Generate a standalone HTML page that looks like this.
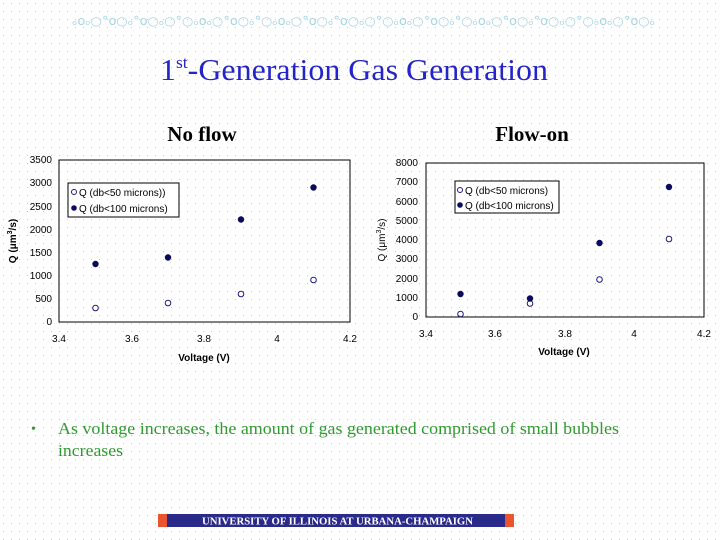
<!DOCTYPE html>
<html><head><meta charset="utf-8"><style>
body{margin:0;width:720px;height:540px;overflow:hidden;background:#fff}
svg{display:block}
</style></head><body>
<svg width="720" height="540" viewBox="0 0 720 540" xmlns="http://www.w3.org/2000/svg">
<defs><pattern id="d" width="8" height="8" patternUnits="userSpaceOnUse"><rect x="3" y="3" width="1" height="1" fill="#c8c8c8"/></pattern></defs>
<rect width="720" height="540" fill="#fff"/>
<rect width="720" height="540" fill="url(#d)"/>
<text x="72" y="25" textLength="583" lengthAdjust="spacingAndGlyphs" font-family="DejaVu Sans, sans-serif" font-size="12" fill="#a8d4e4">ₒoₒ○°o○ₒ°o○ₒ○°○ₒoₒ○°o○ₒ°○ₒoₒ○°o○ₒ°o○ₒ○°○ₒoₒ○°o○ₒ°○ₒoₒ○°o○ₒ°o○ₒ○°○ₒoₒ○°o○ₒ</text>
<text x="160" y="80" textLength="388" lengthAdjust="spacingAndGlyphs" font-family="Liberation Serif, serif" font-size="31" fill="#2424c8">1<tspan font-size="17" dy="-12">st</tspan><tspan dy="12">-Generation Gas Generation</tspan></text>
<g font-family="Liberation Serif, serif" font-size="21" font-weight="bold" fill="#000" text-anchor="middle">
<text x="202" y="141">No flow</text><text x="532" y="141">Flow-on</text></g>

<!-- left chart -->
<g font-family="Liberation Sans, sans-serif" font-size="10" fill="#000">
<rect x="59" y="160" width="291" height="162" fill="none" stroke="#000" stroke-width="1"/>
<g text-anchor="end">
<text x="52" y="325">0</text><text x="52" y="302">500</text><text x="52" y="279">1000</text><text x="52" y="256">1500</text><text x="52" y="233">2000</text><text x="52" y="210">2500</text><text x="52" y="186">3000</text><text x="52" y="163">3500</text></g>
<g text-anchor="middle">
<text x="59" y="342">3.4</text><text x="132" y="342">3.6</text><text x="204" y="342">3.8</text><text x="277" y="342">4</text><text x="350" y="342">4.2</text>
<text x="204" y="361" font-weight="bold">Voltage (V)</text></g>
<text transform="translate(16,241) rotate(-90)" text-anchor="middle" font-weight="bold">Q (μm<tspan font-size="7" dy="-4">3</tspan><tspan dy="4">/s)</tspan></text>
<rect x="68" y="183" width="111" height="34" fill="#fff" stroke="#000"/>
<circle cx="74" cy="192" r="2.5" fill="none" stroke="#1a1a80"/><text x="79" y="196">Q (db&lt;50 microns))</text>
<circle cx="74" cy="208" r="2.8" fill="#0a0a60"/><text x="79" y="212">Q (db&lt;100 microns)</text>
<g fill="none" stroke="#1a1a80" stroke-width="1">
<circle cx="95.5" cy="308" r="2.8"/><circle cx="168" cy="303" r="2.8"/><circle cx="241" cy="294" r="2.8"/><circle cx="313.5" cy="280" r="2.8"/></g>
<g fill="#0a0a60">
<circle cx="95.5" cy="264" r="3.2"/><circle cx="168" cy="257.5" r="3.2"/><circle cx="241" cy="219.5" r="3.2"/><circle cx="313.5" cy="187.5" r="3.2"/></g>
</g>

<!-- right chart -->
<g font-family="Liberation Sans, sans-serif" font-size="10" fill="#000">
<rect x="426" y="163" width="278" height="154" fill="none" stroke="#000"/>
<g text-anchor="end">
<text x="418" y="320">0</text><text x="418" y="301">1000</text><text x="418" y="282">2000</text><text x="418" y="262">3000</text><text x="418" y="243">4000</text><text x="418" y="224">5000</text><text x="418" y="205">6000</text><text x="418" y="185">7000</text><text x="418" y="166">8000</text></g>
<g text-anchor="middle">
<text x="426" y="337">3.4</text><text x="495" y="337">3.6</text><text x="565" y="337">3.8</text><text x="634" y="337">4</text><text x="704" y="337">4.2</text>
<text x="564" y="355" font-weight="bold">Voltage (V)</text></g>
<text transform="translate(385,240) rotate(-90)" text-anchor="middle">Q (μm<tspan font-size="7" dy="-4">3</tspan><tspan dy="4">/s)</tspan></text>
<rect x="455" y="181" width="104" height="32" fill="#fff" stroke="#000"/>
<circle cx="460" cy="190" r="2.5" fill="none" stroke="#1a1a80"/><text x="465" y="194">Q (db&lt;50 microns)</text>
<circle cx="460" cy="205" r="2.8" fill="#0a0a60"/><text x="465" y="209">Q (db&lt;100 microns)</text>
<g fill="none" stroke="#1a1a80">
<circle cx="460.5" cy="314" r="2.8"/><circle cx="530" cy="303.5" r="2.8"/><circle cx="599.5" cy="279.5" r="2.8"/><circle cx="669" cy="239" r="2.8"/></g>
<g fill="#0a0a60">
<circle cx="460.5" cy="294" r="3.2"/><circle cx="530" cy="298.5" r="3.2"/><circle cx="599.5" cy="243" r="3.2"/><circle cx="669" cy="187" r="3.2"/></g>
</g>

<g font-family="Liberation Serif, serif" font-size="16" fill="#2f9a2f">
<text x="31" y="433" font-size="14">•</text>
<text x="58" y="434" textLength="561" lengthAdjust="spacingAndGlyphs" font-size="17">As voltage increases, the amount of gas generated comprised of small bubbles</text>
<text x="58" y="456" textLength="65" lengthAdjust="spacingAndGlyphs" font-size="17">increases</text></g>

<rect x="158" y="514" width="356" height="13" fill="#2a2a8a"/>
<rect x="158" y="514" width="9" height="13" fill="#e8552e"/>
<rect x="505" y="514" width="9" height="13" fill="#e8552e"/>
<text x="202" y="524.5" textLength="271" lengthAdjust="spacingAndGlyphs" font-family="Liberation Serif, serif" font-weight="bold" font-size="10" fill="#fff">UNIVERSITY OF ILLINOIS AT URBANA-CHAMPAIGN</text>
</svg>
</body></html>
